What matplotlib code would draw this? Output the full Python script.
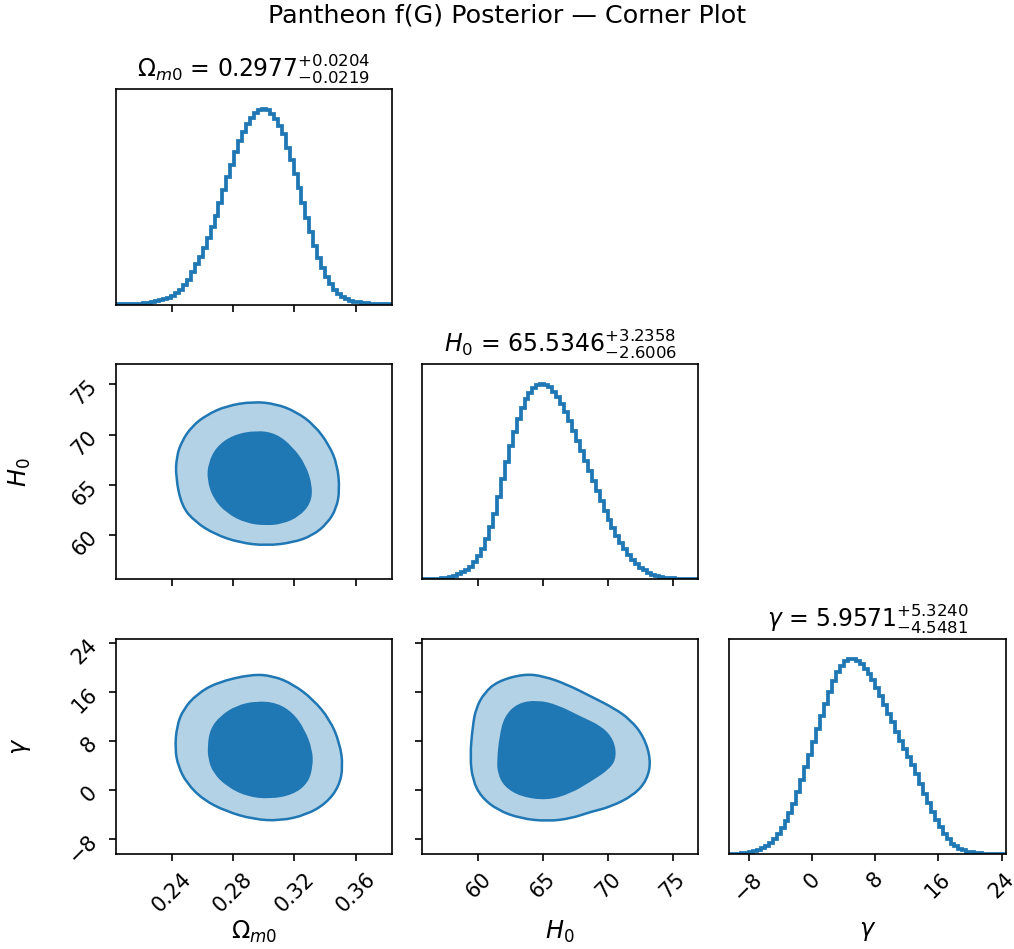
import numpy as np
import matplotlib.pyplot as plt
from matplotlib.path import Path
from matplotlib.patches import PathPatch

# parameter ranges used for every panel
om_range = (0.2035, 0.3840)
h0_range = (55.63, 76.99)
gam_range = (-10.45, 24.55)

om_ticks = [0.24, 0.28, 0.32, 0.36]
h0_ticks = [60, 65, 70, 75]
gam_ticks = [-8, 0, 8, 16, 24]

om_label = r"$\Omega_{m0}$"
h0_label = r"$H_0$"
gam_label = r"$\gamma$"

om_title = r"$\Omega_{m0}$ = $0.2977_{-0.0219}^{+0.0204}$"
h0_title = r"$H_0$ = $65.5346_{-2.6006}^{+3.2358}$"
gam_title = r"$\gamma$ = $5.9571_{-4.5481}^{+5.3240}$"

# 1D marginals, 70 bins each, counts scaled to peak = 100
om_hist = [0.1, 0.1, 0.15, 0.2, 0.3, 0.4, 0.5, 0.7, 0.9, 1.2,
           1.6, 2.1, 2.7, 3.4, 4.4, 5.8, 7.5, 9.8, 12.8, 16.5,
           20.5, 24.5, 29.0, 34.0, 39.5, 45.5, 52.0, 58.5, 65.0, 71.5,
           78.0, 83.5, 88.5, 92.5, 95.5, 98.0, 99.5, 100.0, 99.3, 97.5,
           95.0, 91.5, 87.0, 80.0, 74.0, 67.0, 59.5, 52.0, 44.5, 37.0,
           30.0, 24.0, 18.5, 14.0, 10.3, 7.5, 5.3, 3.8, 2.8, 2.0,
           1.5, 1.1, 0.8, 0.55, 0.4, 0.3, 0.2, 0.15, 0.1, 0.05]

h0_hist = [0.05, 0.1, 0.15, 0.2, 0.3, 0.5, 0.8, 1.2, 1.7, 2.5,
           3.5, 4.8, 6.5, 8.8, 11.8, 15.5, 20.5, 26.5, 33.5, 42.0,
           51.5, 60.0, 68.0, 75.5, 82.0, 87.5, 92.0, 95.5, 98.0, 99.5,
           100.0, 99.6, 98.3, 96.0, 93.0, 89.5, 85.5, 81.0, 76.0, 70.5,
           65.5, 60.5, 55.5, 50.5, 45.0, 40.0, 35.0, 30.5, 26.0, 22.0,
           18.5, 15.3, 12.5, 10.0, 7.8, 6.0, 4.5, 3.3, 2.4, 1.7,
           1.2, 0.9, 0.65, 0.5, 0.35, 0.25, 0.18, 0.12, 0.08, 0.05]

gam_hist = [0.1, 0.2, 0.3, 0.5, 0.8, 1.1, 1.6, 2.2, 3.1, 4.3,
            6.0, 8.0, 10.5, 13.5, 17.0, 21.0, 25.5, 32.0, 38.0, 44.5,
            51.0, 57.5, 64.0, 70.5, 77.0, 83.0, 88.5, 93.0, 96.5, 98.8,
            100.0, 100.0, 99.0, 97.3, 95.0, 92.3, 89.0, 85.0, 80.8, 76.5,
            72.0, 67.5, 62.5, 58.0, 54.0, 50.0, 45.5, 41.0, 36.0, 31.0,
            26.0, 21.5, 17.5, 13.8, 10.5, 7.8, 5.5, 4.0, 2.9, 2.0,
            1.4, 1.0, 0.7, 0.5, 0.35, 0.25, 0.15, 0.1, 0.05, 0.03]

# 2D credible regions: outer (95%) and inner (68%) outlines
om_h0_outer = [(0.2426, 65.83), (0.2432, 67.81), (0.2465, 69.30), (0.2530, 70.79),
               (0.2627, 71.95), (0.2757, 72.85), (0.2930, 73.28), (0.3081, 73.05),
               (0.3211, 72.28), (0.3330, 70.96), (0.3427, 68.97), (0.3481, 66.99),
               (0.3496, 64.50), (0.3475, 62.68), (0.3416, 61.19), (0.3319, 59.97),
               (0.3189, 59.27), (0.3016, 58.97), (0.2843, 59.27), (0.2681, 60.10),
               (0.2551, 61.36), (0.2465, 62.91)]
om_h0_inner = [(0.2638, 67.15), (0.2692, 68.81), (0.2800, 69.97), (0.2951, 70.43),
               (0.3081, 70.13), (0.3189, 68.81), (0.3276, 66.99), (0.3319, 64.83),
               (0.3308, 63.18), (0.3232, 61.85), (0.3124, 61.13), (0.3016, 60.96),
               (0.2886, 61.19), (0.2757, 62.19), (0.2670, 63.68), (0.2631, 65.50)]

om_gam_outer = [(0.2422, 6.60), (0.2433, 10.41), (0.2476, 13.14), (0.2563, 15.59),
                (0.2693, 17.50), (0.2921, 18.86), (0.3062, 18.59), (0.3192, 17.23),
                (0.3322, 14.77), (0.3431, 11.50), (0.3496, 7.69), (0.3518, 3.87),
                (0.3492, 0.60), (0.3409, -2.13), (0.3279, -4.03), (0.3105, -5.01),
                (0.2932, -4.74), (0.2758, -3.49), (0.2606, -1.58), (0.2498, 1.14),
                (0.2443, 3.87)]
om_gam_inner = [(0.2634, 7.14), (0.2650, 9.87), (0.2715, 12.05), (0.2823, 13.79),
                (0.2953, 14.50), (0.3084, 14.23), (0.3192, 12.59), (0.3268, 9.87),
                (0.3318, 6.60), (0.3322, 3.87), (0.3290, 1.14), (0.3192, -0.76),
                (0.3040, -1.47), (0.2888, -1.04), (0.2758, 0.60), (0.2671, 2.78),
                (0.2639, 4.96)]

h0_gam_outer = [(59.36, 5.45), (59.56, 10.36), (59.82, 13.35), (60.46, 15.81),
                (61.49, 17.72), (63.54, 18.92), (65.08, 18.53), (66.87, 17.17),
                (68.67, 15.26), (70.46, 13.35), (71.74, 11.45), (72.77, 8.72),
                (73.33, 4.91), (73.03, 1.64), (72.00, -0.82), (70.21, -2.73),
                (68.67, -3.54), (67.13, -4.63), (65.33, -5.07), (63.28, -4.63),
                (61.49, -3.27), (60.21, -1.09), (59.56, 1.64)]
h0_gam_inner = [(61.44, 4.91), (61.62, 8.72), (62.00, 11.99), (63.03, 14.17),
                (64.56, 14.66), (66.10, 13.90), (67.90, 11.99), (69.56, 10.36),
                (70.46, 8.18), (70.67, 5.45), (70.21, 3.54), (68.67, 1.36),
                (67.13, -0.55), (65.33, -1.69), (63.28, -1.09), (62.00, 0.55),
                (61.49, 2.73)]

blue = "#1f77b4"
light = "#b4d2e6"

fig = plt.figure(figsize=(1014 / 150, 949 / 150), dpi=150)
lefts = [0.1141, 0.4159, 0.7191]
bottoms = [0.6791, 0.3896, 0.0998]
w, h = 0.2729, 0.2266


def smooth_path(pts):
    # closed quadratic-bezier outline using the points as control vertices
    v = np.array(pts)
    mids = (v + np.roll(v, -1, axis=0)) / 2
    verts = [mids[-1]]
    codes = [Path.MOVETO]
    for k in range(len(v)):
        verts += [v[k], mids[k]]
        codes += [Path.CURVE3, Path.CURVE3]
    return Path(verts, codes)


def diag(ax, vals, rng, ticks, title):
    edges = np.linspace(rng[0], rng[1], len(vals) + 1)
    ax.stairs(vals, edges, color=blue, lw=1.8)
    ax.set_xlim(rng)
    ax.set_ylim(0, 1.1 * max(vals))
    ax.set_yticks([])
    ax.set_xticks(ticks)
    ax.set_title(title, fontsize=11.3)


def pair(ax, outer, inner, xr, yr, xticks, yticks):
    ax.add_patch(PathPatch(smooth_path(outer), facecolor=light,
                           edgecolor=blue, lw=1.2))
    ax.add_patch(PathPatch(smooth_path(inner), facecolor=blue,
                           edgecolor="none"))
    ax.set_xlim(xr)
    ax.set_ylim(yr)
    ax.set_xticks(xticks)
    ax.set_yticks(yticks)


ax00 = fig.add_axes([lefts[0], bottoms[0], w, h])
ax10 = fig.add_axes([lefts[0], bottoms[1], w, h])
ax11 = fig.add_axes([lefts[1], bottoms[1], w, h])
ax20 = fig.add_axes([lefts[0], bottoms[2], w, h])
ax21 = fig.add_axes([lefts[1], bottoms[2], w, h])
ax22 = fig.add_axes([lefts[2], bottoms[2], w, h])

diag(ax00, om_hist, om_range, om_ticks, om_title)
diag(ax11, h0_hist, h0_range, h0_ticks, h0_title)
diag(ax22, gam_hist, gam_range, gam_ticks, gam_title)

pair(ax10, om_h0_outer, om_h0_inner, om_range, h0_range, om_ticks, h0_ticks)
pair(ax20, om_gam_outer, om_gam_inner, om_range, gam_range, om_ticks, gam_ticks)
pair(ax21, h0_gam_outer, h0_gam_inner, h0_range, gam_range, h0_ticks, gam_ticks)

# hide inner tick labels
for ax in (ax00, ax10, ax11):
    ax.set_xticklabels([])
ax21.set_yticklabels([])

# rotated tick labels and axis labels on the outer edge
for ax, lab in ((ax20, om_label), (ax21, h0_label), (ax22, gam_label)):
    for t in ax.get_xticklabels():
        t.set_rotation(45)
    ax.set_xlabel(lab, fontsize=11.5)
    ax.xaxis.set_label_coords(0.5, -0.3)
for ax, lab in ((ax10, h0_label), (ax20, gam_label)):
    for t in ax.get_yticklabels():
        t.set_rotation(45)
    ax.set_ylabel(lab, fontsize=11.5)
    ax.yaxis.set_label_coords(-0.3, 0.5)

fig.suptitle("Pantheon f(G) Posterior — Corner Plot", fontsize=12.2,
             y=0.9758, va="baseline")

fig.savefig("out.png", dpi=150)
